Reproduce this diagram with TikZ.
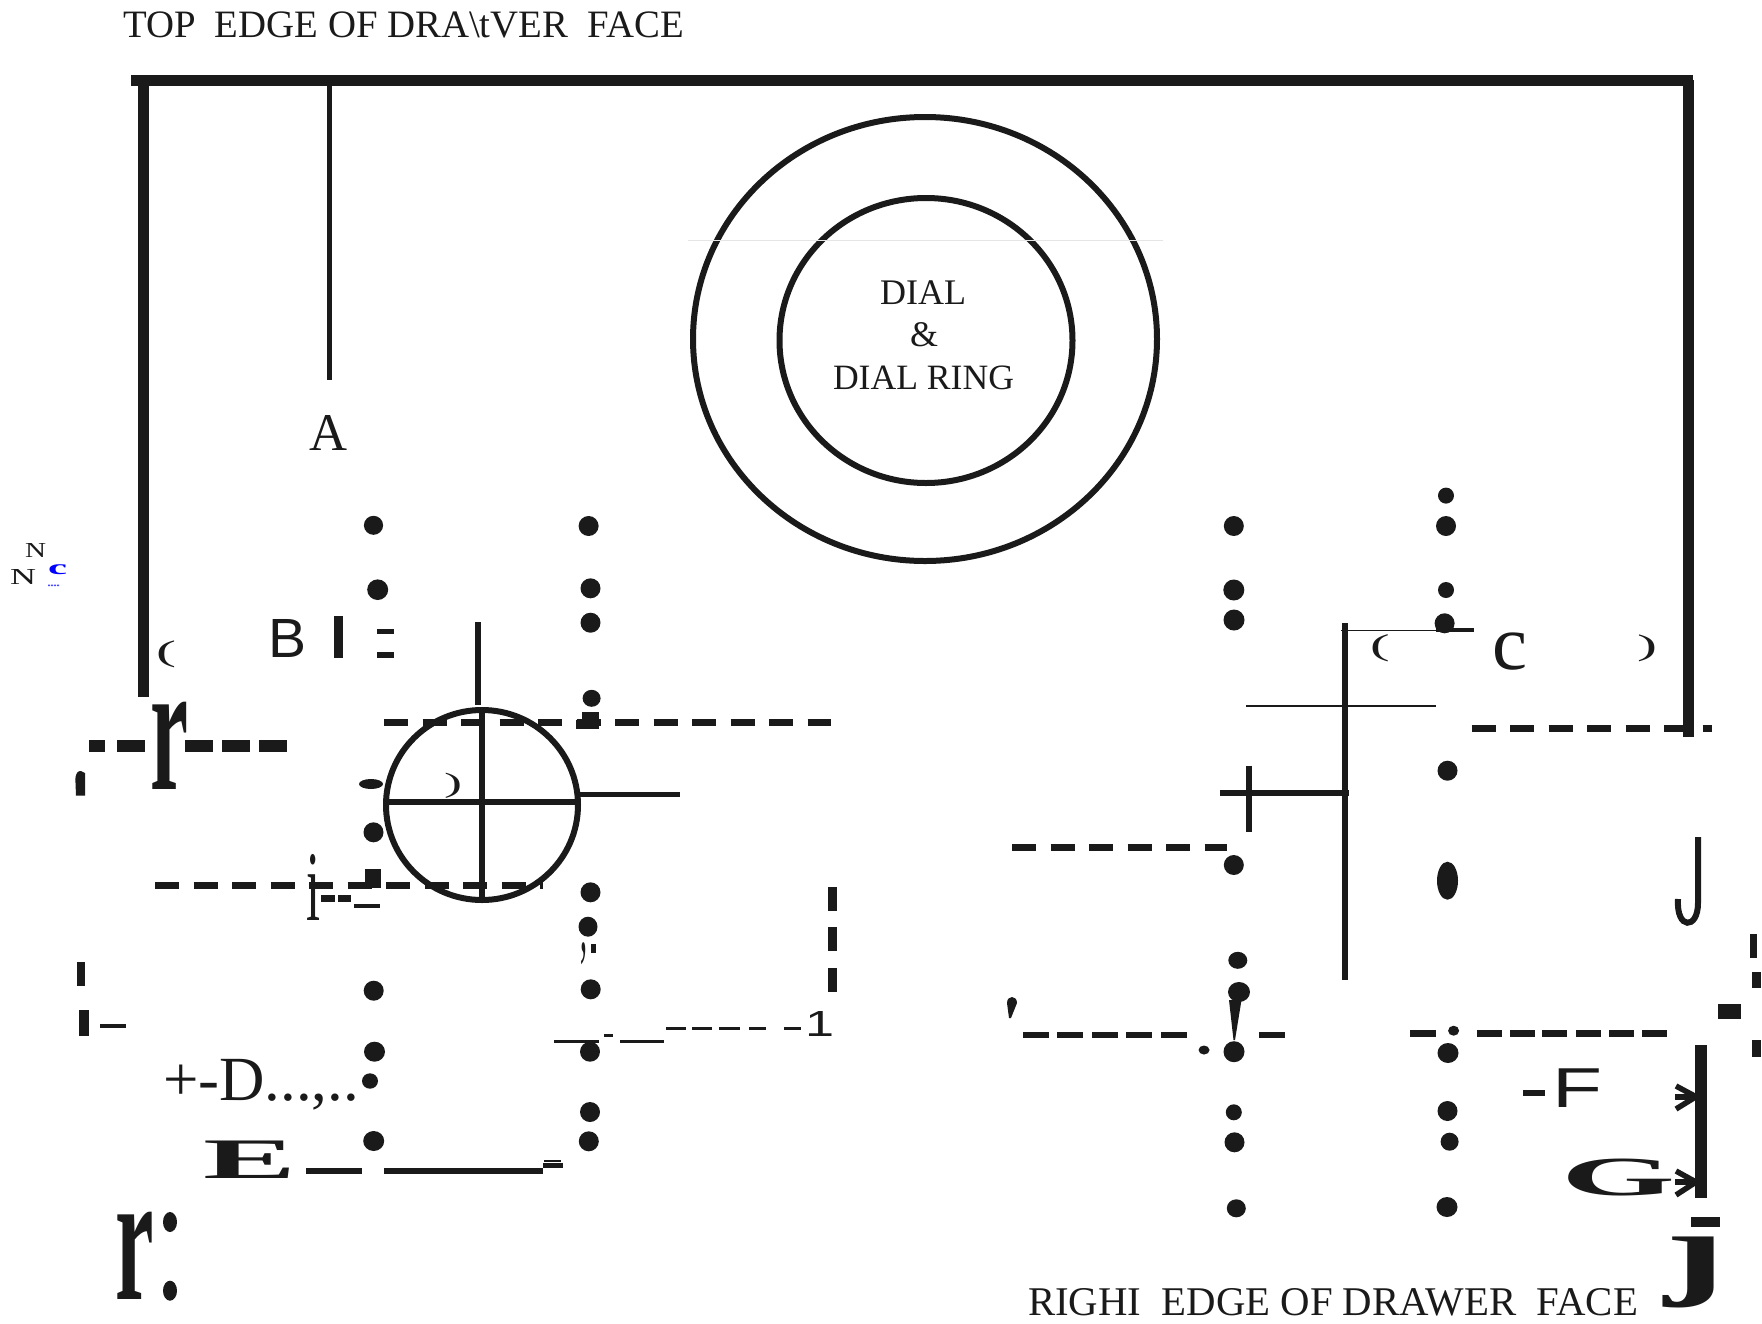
\documentclass[tikz,border=0pt]{standalone}
\usepackage{fontspec}
\usepackage{graphicx}
\setmainfont{Liberation Serif}
\newfontfamily\sansf{Liberation Sans}
\definecolor{ink}{HTML}{1A1A1A}
\newcommand{\gly}[6]{\node[glyph,anchor=south west] (#1) at (#2,#5) {\resizebox*{\dimexpr #4pt-#2pt\relax}{\dimexpr #5pt-#3pt\relax}{#6}};}
\newcommand{\lin}[5]{\node[glyph,anchor=base west] (#1) at (#2,#3) {\resizebox{#4pt}{!}{#5}};}
\newcommand{\rbar}[4]{\fill[ink] (#1,#2) rectangle (#3,#4);}
\newcommand{\pdot}[4]{\fill[ink] (#1,#2) ellipse [x radius=#3pt,y radius=#4pt];}
\tikzset{
  glyph/.style={inner sep=0pt,outer sep=0pt,text=ink},
  edgeline/.style={draw=ink,line width=11pt},
  ringline/.style={draw=ink,line width=6pt},
  crossline/.style={draw=ink,line width=6pt},
  hidden/.style={draw=ink,line width=7pt,dash pattern=on 24pt off 14.5pt},
  barb/.style={draw=ink,line width=5.5pt,line join=round}
}
\begin{document}
\begin{tikzpicture}[x=1pt,y=-1pt]
\useasboundingbox (0,0) rectangle (1762,1323);
\fill[white] (0,0) rectangle (1762,1323);
% heading and drawer edges
\lin{top}{123}{37.5}{561}{TOP\ \ EDGE OF DRA\textbackslash tVER\ \ FACE}
\draw[edgeline] (131,80) -- (1693,80);
\draw[edgeline] (143.5,80) -- (143.5,697);
\draw[edgeline] (1688,80) -- (1688,737);
\draw[draw=ink,line width=5pt] (329,80) -- (329,380);
\gly{lA}{309}{415}{347}{450}{A}
% dial
\draw[ringline] (925,339) ellipse [x radius=232pt,y radius=222pt];
\draw[ringline] (926,340.5) ellipse [x radius=146.5pt,y radius=142.5pt];
\draw[draw=black!10,line width=1pt] (688,240) -- (1163,240);
\lin{d1}{880}{304.5}{86}{DIAL}
\lin{d2}{910}{346}{28}{\&}
\lin{d3}{833}{389}{181}{DIAL RING}
% sideways specks
\gly{n1}{25}{543}{46}{557}{N}
\gly{n2}{10}{569}{36}{584}{N}
\node[glyph,anchor=south west,text=blue] (c1) at (48,575) {\resizebox*{19pt}{10pt}{\bfseries c}};
\fill[blue!70] (48,584.5) rectangle (50,586) (51,584.5) rectangle (53,586) (54,584.5) rectangle (56,586) (57,584.5) rectangle (59,586);
% left hole columns
\pdot{373.5}{525.3}{9.6}{9.5}\pdot{377.7}{589.7}{10.5}{10.3}
\pdot{373.5}{832.3}{10}{10}\pdot{373.7}{990.7}{10}{10}
\pdot{374.5}{1051.7}{10.5}{10}\pdot{370}{1081}{8}{7.7}\pdot{373.7}{1141}{10.5}{10}
\pdot{588.6}{526}{10}{10}\pdot{590.5}{588.3}{10}{10}\pdot{590.5}{622.7}{10}{10}
\pdot{591.6}{698.3}{9}{8.5}\pdot{590.5}{892.3}{10}{10}\pdot{588}{926.7}{9.5}{10}
\pdot{590.7}{989.3}{10}{10}\pdot{590}{1051.7}{10}{10}\pdot{590}{1112}{10}{10}\pdot{588.8}{1141.3}{10}{10}
\rbar{576}{720}{599}{729}\rbar{582}{712}{599}{720}
\rbar{591}{944}{596}{953}
\gly{comma}{580}{943}{587}{965}{,}
% left labels
\gly{lparB}{156}{640.7}{176}{667.7}{(}
\node[glyph,anchor=south west] (lB) at (268,657) {\resizebox*{38pt}{38pt}{\sansf B}};
\rbar{334}{616}{342.5}{658}
\rbar{377}{628.7}{394}{634}\rbar{377}{652.3}{394}{658}
\rbar{88.8}{740}{105}{752}\rbar{117}{740}{145.4}{752}\rbar{184.8}{740}{213}{752}\rbar{222}{740}{250}{752}\rbar{259}{740}{287}{752}
\node[glyph,anchor=south west] (bigr) at (150,789) {\resizebox*{38pt}{87.3pt}{\bfseries r}};
\fill[ink] (76,795.7) -- (75.4,780) .. controls (75.4,773) and (78,770.7) .. (81,771) -- (85,773) -- (85,795.7) -- cycle;
% small circle and cross
\draw[crossline] (478,622) -- (478,705);
\draw[hidden] (384,722.3) -- (831,722.3);
\draw[hidden] (155,885.7) -- (543,885.7);
\draw[crossline] (482,805) ellipse [x radius=96pt,y radius=95pt];
\draw[crossline] (481.5,708) -- (481.5,897);
\draw[crossline] (385,801.7) -- (580,801.7);
\draw[draw=ink,line width=5pt] (578,794) -- (680,794);
\rbar{365}{869}{381}{888}
\gly{rparB}{444}{772.7}{462}{798}{)}
\pdot{371}{784}{12}{5}
\gly{ii}{306}{854}{320}{920}{i}
\rbar{320.7}{895}{334.5}{901.7}\rbar{338}{895}{351}{901.7}\rbar{354}{904}{379.6}{908}
% left lower marks
\rbar{77}{962}{85}{986}\rbar{79}{1010}{89}{1036}\rbar{100}{1024}{126}{1028}
\lin{lD}{163}{1100}{196}{+-D...,..}
\node[glyph,anchor=south west] (lE) at (203.6,1178) {\resizebox*{93pt}{37.5pt}{\bfseries E}};
\rbar{306.4}{1167.7}{362}{1174}\rbar{383.5}{1167.7}{543}{1174}\rbar{543}{1163}{562.7}{1167.7}
\fill[ink] (544,1160) rectangle (561,1162);
\node[glyph,anchor=south west] (lowr) at (115.5,1299) {\resizebox*{38.5pt}{87.3pt}{\bfseries r}};
\pdot{170}{1222}{7}{10}\pdot{170}{1290.7}{7}{10}
% middle dash runs
\rbar{828}{886.7}{837}{911}\rbar{828}{926.7}{837}{951}\rbar{828}{967.7}{837}{992}
\rbar{553.8}{1040}{598.7}{1042.5}\rbar{603.8}{1034.3}{613}{1037.3}\rbar{620}{1040}{663.5}{1042.5}
\rbar{666}{1027}{686.4}{1030}\rbar{692}{1027}{712.4}{1030}\rbar{719}{1027}{739.5}{1030}\rbar{749}{1027}{765.5}{1030}\rbar{784}{1027}{801}{1030}
\node[glyph,anchor=south west] (one) at (805,1036.7) {\resizebox*{29pt}{25pt}{\sansf 1}};
\fill[ink] (1009,1018) -- (1007,1003) .. controls (1007,995) and (1017,995) .. (1017,1003) -- (1011,1018) -- cycle;
\rbar{1023}{1032}{1049}{1037.7}\rbar{1057}{1032}{1083}{1037.7}\rbar{1092}{1032}{1118}{1037.7}\rbar{1126}{1032}{1152}{1037.7}\rbar{1161}{1032}{1187}{1037.7}\rbar{1259}{1031.7}{1285}{1037.7}
% right hole columns
\pdot{1233.8}{526}{10}{10}\pdot{1233.8}{590}{10.5}{10.5}\pdot{1234}{620}{10.5}{10.5}
\pdot{1233.8}{865}{10}{10}\pdot{1237.8}{960.3}{9.5}{8.5}\pdot{1239}{992}{11}{10}
\fill[ink] (1229,1000) -- (1241.5,1000) -- (1235,1040) -- (1233.5,1040) -- cycle;
\pdot{1234}{1051.7}{10.5}{10.5}\pdot{1204}{1050}{5.5}{4.5}
\pdot{1233.8}{1112.3}{8}{8}\pdot{1234.5}{1142.3}{10}{10}\pdot{1236.3}{1208.3}{9.5}{9}
\pdot{1446}{495.6}{8}{8}\pdot{1446}{526}{10}{10}\pdot{1446}{590}{8}{8}\pdot{1444.6}{623.3}{10}{10}
\pdot{1447.5}{770.7}{10}{10}\pdot{1447.5}{880.7}{10.5}{19}
\pdot{1448}{1053}{10.5}{10}\pdot{1447.5}{1111}{10}{10}\pdot{1449.6}{1141.7}{9}{9}\pdot{1447}{1207}{10.5}{10}
% right cross
\draw[draw=ink,line width=6pt] (1345,623) -- (1345,980);
\draw[draw=ink,line width=1.5pt] (1341,630.3) -- (1436,630.3);
\draw[draw=ink,line width=4pt] (1435.6,630.3) -- (1474,630.3);
\draw[draw=ink,line width=2pt] (1246,705.7) -- (1436.3,705.7);
\draw[draw=ink,line width=6pt] (1219.8,792.7) -- (1349,792.7);
\draw[draw=ink,line width=6pt] (1248.6,765.7) -- (1248.6,832.3);
\draw[hidden] (1012,847.5) -- (1227,847.5);
\draw[hidden] (1471.6,728.7) -- (1712,728.7);
\gly{lparC}{1370}{635}{1389.6}{662.3}{(}
\gly{lC}{1492}{633.3}{1527}{670.7}{c}
\gly{rparC}{1637}{635}{1657}{662}{)}
\draw[draw=ink,line width=6pt] (1698,837) -- (1698,903) .. controls (1698,930) and (1676,930) .. (1678,899);
% right lower marks
\rbar{1750.4}{934}{1757}{957.7}\rbar{1752}{971.7}{1761}{988}\rbar{1718}{1004}{1741}{1019}\rbar{1752}{1040}{1761}{1056.7}
\rbar{1410.4}{1030}{1435.6}{1036.7}\pdot{1453.6}{1030.7}{5.5}{5}
\rbar{1477}{1030}{1502}{1036.7}\rbar{1510}{1030}{1535}{1036.7}\rbar{1542}{1030}{1567}{1036.7}\rbar{1576}{1030}{1601}{1036.7}\rbar{1608.6}{1030}{1634}{1036.7}\rbar{1641.7}{1030}{1667}{1036.7}
\rbar{1523}{1090}{1545}{1095.7}
\node[glyph,anchor=south west] (lF) at (1552,1107.7) {\resizebox*{50pt}{38.7pt}{\sansf F}};
\rbar{1694.6}{1045}{1707}{1197.7}
\node[glyph,anchor=south west] (lG) at (1561,1196) {\resizebox*{114pt}{37pt}{\bfseries G}};
\draw[barb] (1676,1086) -- (1696,1096.7) -- (1676,1109);
\draw[barb] (1675,1097) -- (1696,1097);
\draw[barb] (1676,1171) -- (1696,1182) -- (1676,1195);
\draw[barb] (1675,1182) -- (1696,1182);
\rbar{1691}{1217}{1720}{1226.7}
\node[glyph,anchor=south west] (bigj) at (1664,1308) {\resizebox*{62pt}{71pt}{\bfseries ȷ}};
\lin{bot}{1028}{1315}{610}{RIGHI\ \ EDGE OF DRAWER\ \ FACE}
\end{tikzpicture}
\end{document}
